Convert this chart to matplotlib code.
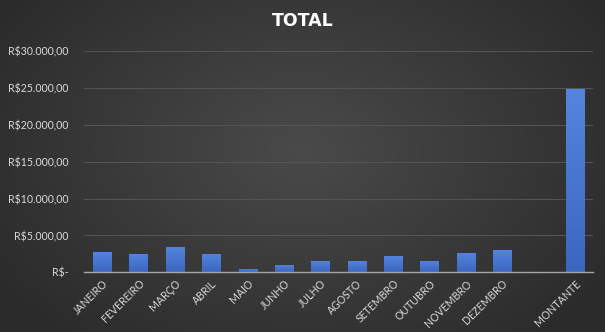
import numpy as np
import matplotlib
matplotlib.use("Agg")
import matplotlib.pyplot as plt
from matplotlib.ticker import FuncFormatter
from matplotlib.colors import LinearSegmentedColormap

categories = ["JANEIRO", "FEVEREIRO", "MARÇO", "ABRIL", "MAIO", "JUNHO", "JULHO",
              "AGOSTO", "SETEMBRO", "OUTUBRO", "NOVEMBRO", "DEZEMBRO", "", "MONTANTE"]
values = [2750, 2480, 3470, 2480, 450, 1030, 1530, 1530, 2210, 1530, 2620, 3020, 0, 24800]
yticks = [0, 5000, 10000, 15000, 20000, 25000, 30000]
title = "TOTAL"

W, H = 605, 332
fig = plt.figure(figsize=(W / 100, H / 100), dpi=100)

# radial gradient background
bg = fig.add_axes([0, 0, 1, 1], zorder=0)
yy, xx = np.mgrid[0:H, 0:W]
r = np.sqrt(((xx - W * 0.5) / (W * 0.6)) ** 2 + ((yy - H * 0.45) / (H * 0.75)) ** 2)
r = np.clip(r, 0, 1)
c0 = np.array([0x4a, 0x4a, 0x4a]) / 255
c1 = np.array([0x2b, 0x2b, 0x2b]) / 255
img = c0[None, None, :] * (1 - r[..., None]) + c1[None, None, :] * r[..., None]
bg.imshow(img, aspect="auto", extent=[0, 1, 0, 1])
bg.axis("off")

left, right = 84 / W, 593 / W
bottom, top = 1 - 272.3 / H, 1 - 51 / H
ax = fig.add_axes([left, bottom, right - left, top - bottom], zorder=1)
ax.patch.set_alpha(0)

x = np.arange(len(categories))
bars = ax.bar(x, values, width=0.5, color="#4674cc", edgecolor="none", zorder=3)

cmap = LinearSegmentedColormap.from_list("bar", ["#3a66c2", "#5585dc"])
grad = np.linspace(0, 1, 256).reshape(-1, 1)
for b in bars:
    if b.get_height() <= 0:
        continue
    x0, y0 = b.get_x(), b.get_y()
    im = ax.imshow(grad, cmap=cmap, origin="lower", aspect="auto",
                   extent=[x0, x0 + b.get_width(), y0, y0 + b.get_height()], zorder=4)
    im.set_clip_path(b)
ax.set_xlim(-0.5, len(categories) - 0.5)
ax.set_ylim(0, 30000)
ax.set_yticks(yticks)

def fmt(v, pos):
    if v == 0:
        return "R$-"
    s = f"{int(v):,}".replace(",", ".")
    return f"R${s},00"

ax.yaxis.set_major_formatter(FuncFormatter(fmt))
ax.grid(axis="y", color="#545454", linewidth=0.8, zorder=0)
for s in ["top", "right", "left"]:
    ax.spines[s].set_visible(False)
ax.spines["bottom"].set_color("#a6a6a6")
ax.spines["bottom"].set_linewidth(1.0)
ax.spines["bottom"].set_zorder(5)
ax.tick_params(axis="both", length=0, colors="#d9d9d9", labelsize=7.6)
ax.tick_params(axis="y", pad=11)
ax.tick_params(axis="x", pad=4)
ax.set_xticks(x)
ax.set_xticklabels(categories, rotation=45, ha="right", rotation_mode="anchor", fontfamily="Lato")
for lbl in ax.get_yticklabels():
    lbl.set_fontfamily("Lato")

fig.text(0.5, 1 - 21 / H, title, ha="center", va="center", color="white",
         fontsize=12.5, fontweight="bold", fontfamily="DejaVu Sans")

fig.savefig("out.png", dpi=100)
